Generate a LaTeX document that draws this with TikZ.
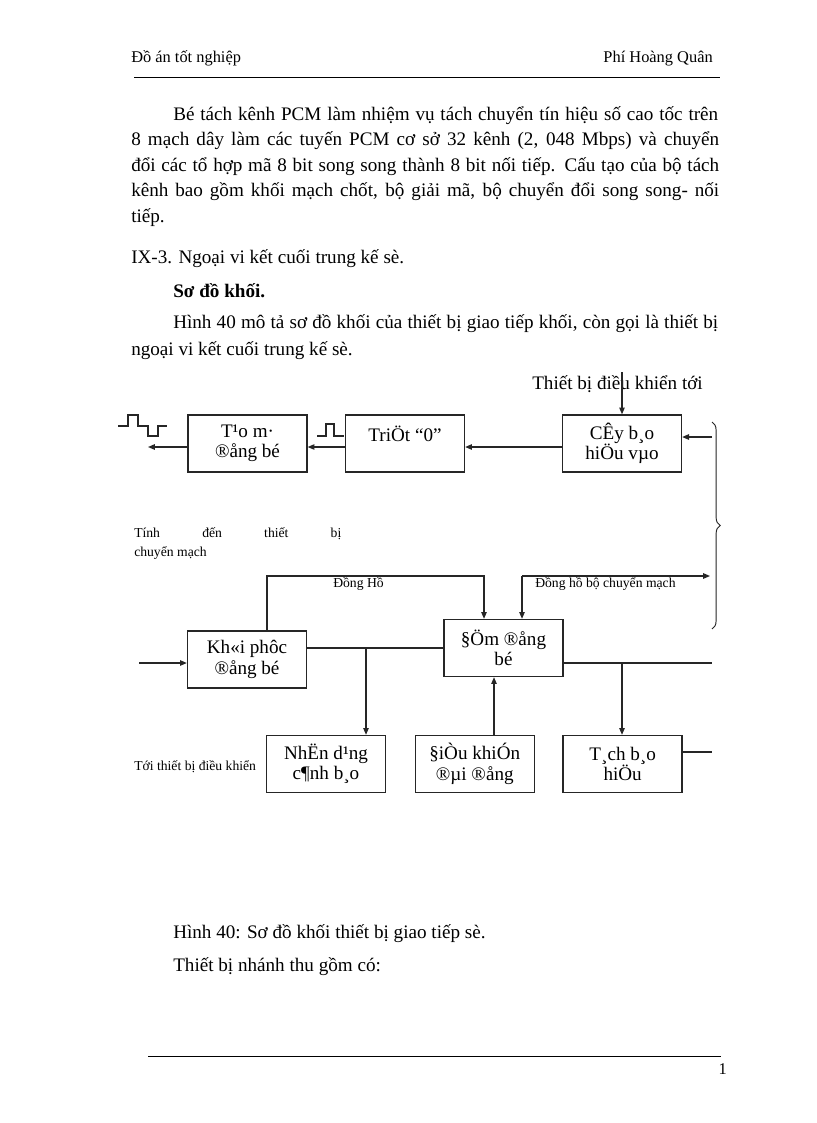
\documentclass[tikz,border=0pt]{standalone}
\usepackage{fontspec}
\setmainfont{Liberation Serif}
\usepackage{tikz}
\usetikzlibrary{arrows.meta, decorations.pathreplacing, positioning}
\tikzset{
>={Triangle[length=5pt, width=4pt]},
  khoi/.style={
    rectangle,
    draw=black!85, line width=1pt,
    minimum width=87.1pt,
    minimum height=41.7pt,
    inner sep=0pt,
    align=center,
    font=\fontsize{14}{15}\selectfont},
  line/.style={draw=black!85, line width=0.9pt, ->},
  day/.style={draw=black!85, line width=0.9pt},
  xung/.style={draw=black!85, line width=0.8pt},
  chu/.style={anchor=base west, inner sep=0pt, font=\fontsize{14}{17}\selectfont},
  tieude/.style={anchor=base west, inner sep=0pt, font=\fontsize{12}{14}\selectfont},
  nho/.style={anchor=base west, inner sep=0pt, font=\fontsize{10}{12}\selectfont},
  decoration={brace, amplitude=6pt},
  ngoac/.style={decorate, draw=black!85, line width=0.7pt},
}
\newcommand{\dong}[2]{\makebox[#1][s]{\spaceskip=.25em plus 1em minus .1em #2}}

\begin{document}
\begin{tikzpicture}[x=0.7322pt, y=-0.7322pt]
     \useasboundingbox (0,0) rectangle (816,1123);
     \path[fill=white] (0,0) rectangle (816,1123);
     % dau trang
     \node[tieude] (dau1) at (131,63) {Đồ án tốt nghiệp};
     \node[tieude, anchor=base east] (dau2) at (713,63) {Phí Hoàng Quân};
     \draw[line width=0.6pt] (134,77) -- (720,77);
     % doan van
     \node[chu] (p1) at (173,120) {\dong{399pt}{Bé tách kênh PCM làm nhiệm vụ tách chuyển tín hiệu số cao tốc trên}};
     \node[chu] (p2) at (131,145.5) {\dong{430.5pt}{8 mạch dây làm các tuyến PCM cơ sở 32 kênh (2, 048 Mbps) và chuyển}};
     \node[chu] (p3) at (131,171) {\dong{430.5pt}{đổi các tổ hợp mã 8 bit song song thành 8 bit nối tiếp. Cấu tạo của bộ tách}};
     \node[chu] (p4) at (131,196.5) {\dong{430.5pt}{kênh bao gồm khối mạch chốt, bộ giải mã, bộ chuyển đổi song song- nối}};
     \node[chu] (p5) at (131,222) {tiếp.};
     \node[chu] (muc) at (131,263) {IX-3. Ngoại vi kết cuối trung kế sè.};
     \node[chu, font=\fontsize{14}{17}\selectfont\bfseries] (sodo) at (173,297) {Sơ đồ khối.};
     \node[chu] (h1) at (173,328) {\dong{399pt}{Hình 40 mô tả sơ đồ khối của thiết bị giao tiếp khối, còn gọi là thiết bị}};
     \node[chu] (h2) at (131,355) {ngoại vi kết cuối trung kế sè.};
     % hang tren
     \node[chu] (tbdk) at (532,389) {Thiết bị điều khiển tới};
     \node[khoi] (tao)   at (247.5,443.5) {T¹o m·\\®ång bé};
     \node[khoi] (triet) at (405,443.5)   {TriÖt “0”\\\mbox{}};
     \node[khoi] (cay)   at (622,443.5)   {CÊy b¸o\\hiÖu vµo};
     \coordinate (tuDK) at (622,372);
     \coordinate (raTao) at (148,447);
     \coordinate (vaoCay) at (712,437);
     \draw[line] (tuDK) -- (cay.north);
     \draw[line] (cay.west |- raTao) -- (triet.east |- raTao);
     \draw[line] (triet.west |- raTao) -- (tao.east |- raTao);
     \draw[line] (tao.west |- raTao) -- (raTao);
     \draw[line] (vaoCay) -- (vaoCay -| cay.east);
     \draw[xung] (118,426) -- (128,426) -- (128,415) -- (138,415) -- (138,426) -- (148,426) -- (148,436) -- (158,436) -- (158,426) -- (167,426);
     \draw[xung] (317,436) -- (326,436) -- (326,424) -- (334,424) -- (334,436) -- (344,436);
     \draw[ngoac] (712,422) -- (712,629);
     \node[nho] (tinh1) at (134,537) {\dong{151.6pt}{Tính đến thiết bị}};
     \node[nho] (tinh2) at (134,556) {chuyển mạch};
     % hang giua
     \node[khoi] (khoi) at (247,659.5) {Kh«i phôc\\®ång bé};
     \node[khoi] (dem)  at (503.5,648) {§Öm ®ång\\bé};
     \coordinate (vaoKhoi) at (139,663);
     \coordinate (reNhan) at (366,648);
     \coordinate (dh1) at (267,576);
     \coordinate (dh2) at (484,576);
     \coordinate (dh3) at (522,576);
     \coordinate (dh4) at (710,576);
     \coordinate (raDem) at (712,663);
     \coordinate (reTach) at (622,663);
     \draw[line] (vaoKhoi) -- (vaoKhoi -| khoi.west);
     \draw[day] (khoi.east |- dem.west) -- (dem.west);
     \draw[line] (dh1 |- khoi.north) -- (dh1) -- (dh2) -- (dh2 |- dem.north);
     \draw[line] (dh3) -- (dh3 |- dem.north);
     \draw[line] (dh3) -- (dh4);
     \node[nho] (lbDH1) at (333,587) {Đồng Hồ};
     \node[nho] (lbDH2) at (535,587) {Đồng hồ bộ chuyển mạch};
     \draw[day] (raDem -| dem.east) -- (raDem);
     % hang duoi
     \node[khoi] (nhan) at (326,764) {NhËn d¹ng\\c¶nh b¸o};
     \node[khoi, right=20.8pt of nhan] (dieu) {§iÒu khiÓn\\®µi ®ång};
     \node[khoi, right=20.2pt of dieu] (tach) {T¸ch b¸o\\hiÖu};
     \coordinate (lenDem) at (494,735);
     \coordinate (raTach) at (712,752);
     \draw[line] (reNhan) -- (reNhan |- nhan.north);
     \draw[line] (lenDem |- dieu.north) -- (lenDem |- dem.south);
     \draw[line] (reTach) -- (reTach |- tach.north);
     \draw[day] (raTach -| tach.east) -- (raTach);
     \node[nho] (toiDK) at (134,770) {Tới thiết bị điều khiển};
     % chu thich
     \node[chu] (hinh) at (173,938) {Hình 40: Sơ đồ khối thiết bị giao tiếp sè.};
     \node[chu] (thu) at (173,971) {Thiết bị nhánh thu gồm có:};
     \draw[line width=0.6pt] (148,1056) -- (721,1056);
     \node[tieude, anchor=base east] (trang) at (727,1074) {1};
\end{tikzpicture}
\end{document}
